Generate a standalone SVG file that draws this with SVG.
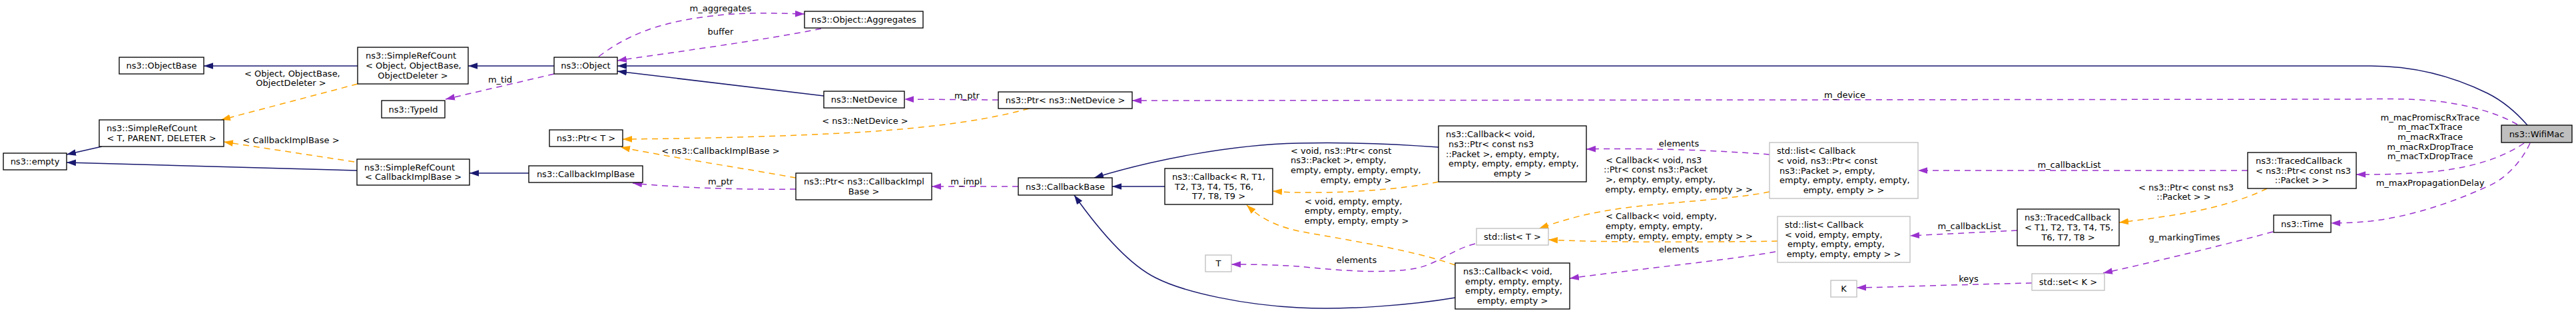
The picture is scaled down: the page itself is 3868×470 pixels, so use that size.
<svg xmlns="http://www.w3.org/2000/svg" width="3868" height="470" viewBox="0 0 3868 470">
<style>
.box{fill:#fff;stroke:#000;stroke-width:1.33}
.gbox{fill:#fff;stroke:#bfbfbf;stroke-width:1.33}
.cur{fill:#bfbfbf;stroke:#000;stroke-width:1.33}
text{font-family:"DejaVu Sans",sans-serif;font-size:13px;fill:#000}
.c{text-anchor:middle}
.navy{fill:none;stroke:#191970;stroke-width:1.5}
.org{fill:none;stroke:#ffa500;stroke-width:1.5;stroke-dasharray:9,7}
.pur{fill:none;stroke:#9a32cd;stroke-width:1.5;stroke-dasharray:9,7}
.navy{marker-end:url(#aN)}
.org{marker-end:url(#aO)}
.pur{marker-end:url(#aP)}
</style>
<defs>
<marker id="aN" markerUnits="userSpaceOnUse" markerWidth="14" markerHeight="10" viewBox="0 0 13 9" refX="13" refY="4.5" orient="auto"><path d="M0,0L13,4.5L0,9z" fill="#191970" stroke="none"/></marker>
<marker id="aO" markerUnits="userSpaceOnUse" markerWidth="14" markerHeight="10" viewBox="0 0 13 9" refX="13" refY="4.5" orient="auto"><path d="M0,0L13,4.5L0,9z" fill="#ffa500" stroke="none"/></marker>
<marker id="aP" markerUnits="userSpaceOnUse" markerWidth="14" markerHeight="10" viewBox="0 0 13 9" refX="13" refY="4.5" orient="auto"><path d="M0,0L13,4.5L0,9z" fill="#9a32cd" stroke="none"/></marker>
</defs>
<rect width="3868" height="470" fill="#fff"/>

<g id="connectors">
<path class="navy" d="M3795,188 C3775,165 3755,150 3735,140 C3680,113 3620,99 3560,99 L927,99"/>
<path class="navy" d="M537,99 L306,99"/>
<path class="navy" d="M832,99 L703,99"/>
<path class="navy" d="M1237,144 L927,107"/>
<path class="navy" d="M153,220 L100,232"/>
<path class="navy" d="M536,256 L100,244"/>
<path class="navy" d="M794,260 L705,260"/>
<path class="navy" d="M1749,280 L1670,280"/>
<path class="navy" d="M2160,221 C2120,218 2040,213 1950,215 C1850,217 1730,240 1643,267"/>
<path class="navy" d="M2185,447 C2120,458 2020,466 1950,462 C1870,458 1780,440 1735,417 C1695,397 1650,345 1613,293"/>

<path class="org" d="M537,126 L332,180"/>
<path class="org" d="M532,243 L336,213"/>
<path class="org" d="M1545,163 C1490,178 1420,190 1300,198 C1180,205 1050,208 935,209"/>
<path class="org" d="M1195,267 C1130,255 1000,235 932,221"/>
<path class="org" d="M2160,273 C2100,285 2020,290 1950,289 C1935,289 1925,288 1911,287"/>
<path class="org" d="M2185,398 C2120,375 2020,360 1950,347 C1910,338 1890,325 1872,308"/>
<path class="org" d="M2657,288 C2600,300 2480,305 2420,315 C2370,323 2340,333 2311,343"/>
<path class="org" d="M2669,362 C2550,364 2400,364 2325,360"/>
<path class="org" d="M3404,283 C3370,300 3320,315 3250,325 C3225,329 3200,332 3182,334"/>

<path class="pur" d="M832,111 L669,149"/>
<path class="pur" d="M899,85 C925,65 950,53 975,44 C1030,25 1100,18 1170,20 L1208,21"/>
<path class="pur" d="M1233,43 C1150,60 1000,80 927,91"/>
<path class="pur" d="M1499,150 L1358,149"/>
<path class="pur" d="M1195,284 C1110,285 1020,282 950,275"/>
<path class="pur" d="M1529,280 L1399,280"/>
<path class="pur" d="M3780,187 C3750,170 3710,158 3660,152 C3620,148 3580,148 3540,149 L1700,151"/>
<path class="pur" d="M3790,215 C3760,235 3720,250 3660,257 C3610,262 3570,262 3538,262"/>
<path class="pur" d="M3799,215 C3785,245 3760,270 3735,280 C3680,305 3620,325 3560,332 C3530,335 3510,335 3500,335"/>
<path class="pur" d="M3375,256 L2880,256"/>
<path class="pur" d="M2657,232 C2570,225 2460,222 2382,224"/>
<path class="pur" d="M2666,378 C2600,390 2450,405 2357,418"/>
<path class="pur" d="M2215,366 C2180,375 2160,395 2130,402 C2080,413 2000,405 1950,400 C1920,398 1890,397 1849,397"/>
<path class="pur" d="M3029,346 L2868,354"/>
<path class="pur" d="M3051,425 C2950,427 2850,431 2788,432"/>
<path class="pur" d="M3413,348 C3350,365 3250,390 3158,410"/>

<text x="367" y="114.5">&lt; Object, ObjectBase,</text>
<text class="c" x="437" y="129">ObjectDeleter &gt;</text>
<text class="c" x="437" y="214.5">&lt; CallbackImplBase &gt;</text>
<text class="c" x="1082" y="16.5">m_aggregates</text>
<text class="c" x="1082" y="51.5">buffer</text>
<text class="c" x="751" y="123.5">m_tid</text>
<text class="c" x="1299" y="185.5">&lt; ns3::NetDevice &gt;</text>
<text class="c" x="1082" y="230.5">&lt; ns3::CallbackImplBase &gt;</text>
<text class="c" x="1082" y="276.5">m_ptr</text>
<text class="c" x="1452" y="147.5">m_ptr</text>
<text class="c" x="1451" y="276.5">m_impl</text>
<text x="1938" y="230.5">&lt; void, ns3::Ptr&lt; const</text>
<text x="1938" y="245.2">ns3::Packet &gt;, empty,</text>
<text x="1938" y="260">empty, empty, empty, empty,</text>
<text class="c" x="2036" y="274.6">empty, empty &gt;</text>
<text class="c" x="2521" y="219.5">elements</text>
<text x="2411" y="244.5">&lt; Callback&lt; void, ns3</text>
<text x="2408" y="259.2">::Ptr&lt; const ns3::Packet</text>
<text x="2411" y="274">&gt;, empty, empty, empty,</text>
<text class="c" x="2521" y="288.7">empty, empty, empty, empty &gt; &gt;</text>
<text x="1959" y="306.5">&lt; void, empty, empty,</text>
<text x="1959" y="321.2">empty, empty, empty,</text>
<text class="c" x="2037" y="336">empty, empty, empty &gt;</text>
<text x="2411" y="328.5">&lt; Callback&lt; void, empty,</text>
<text x="2411" y="343.5">empty, empty, empty,</text>
<text class="c" x="2521" y="358.5">empty, empty, empty, empty &gt; &gt;</text>
<text class="c" x="2521" y="378.5">elements</text>
<text class="c" x="2037" y="394.5">elements</text>
<text class="c" x="2770" y="146.5">m_device</text>
<text class="c" x="3107" y="251.5">m_callbackList</text>
<text class="c" x="2957" y="343.5">m_callbackList</text>
<text class="c" x="2956" y="422.5">keys</text>
<text x="3211" y="285.5">&lt; ns3::Ptr&lt; const ns3</text>
<text class="c" x="3279" y="300">::Packet &gt; &gt;</text>
<text class="c" x="3280" y="360.5">g_markingTimes</text>
<text class="c" x="3649" y="180.5">m_macPromiscRxTrace</text>
<text class="c" x="3649" y="195.2">m_macTxTrace</text>
<text class="c" x="3649" y="209.9">m_macRxTrace</text>
<text class="c" x="3649" y="224.6">m_macRxDropTrace</text>
<text class="c" x="3649" y="239.3">m_macTxDropTrace</text>
<text class="c" x="3649" y="278.5">m_maxPropagationDelay</text>
</g>

<g id="node_wifimac"><rect class="cur" x="3756" y="188" width="106" height="26"/><text class="c" x="3809" y="205.5">ns3::WifiMac</text></g>
<g id="node_object"><rect class="box" x="832" y="86" width="95" height="25"/><text class="c" x="879.5" y="103">ns3::Object</text></g>
<g id="node_srco"><rect class="box" x="537" y="71" width="166" height="55"/><text x="549" y="88.3">ns3::SimpleRefCount</text><text x="549" y="103">&lt; Object, ObjectBase,</text><text class="c" x="620" y="117.7">ObjectDeleter &gt;</text></g>
<g id="node_objectbase"><rect class="box" x="179" y="86" width="127" height="25"/><text class="c" x="242.5" y="103">ns3::ObjectBase</text></g>
<g id="node_srct"><rect class="box" x="149" y="180" width="187" height="40"/><text x="160" y="197.1">ns3::SimpleRefCount</text><text class="c" x="242.5" y="211.8">&lt; T, PARENT, DELETER &gt;</text></g>
<g id="node_empty"><rect class="box" x="5" y="230" width="95" height="25"/><text class="c" x="52.5" y="247">ns3::empty</text></g>
<g id="node_typeid"><rect class="box" x="573" y="151" width="95" height="26"/><text class="c" x="620.5" y="168.5">ns3::TypeId</text></g>
<g id="node_aggregates"><rect class="box" x="1208" y="17" width="178" height="25"/><text class="c" x="1297" y="34">ns3::Object::Aggregates</text></g>
<g id="node_netdevice"><rect class="box" x="1237" y="137" width="121" height="25"/><text class="c" x="1297.5" y="154">ns3::NetDevice</text></g>
<g id="node_ptrnetdevice"><rect class="box" x="1499" y="138" width="201" height="25"/><text class="c" x="1599.5" y="155">ns3::Ptr&lt; ns3::NetDevice &gt;</text></g>
<g id="node_ptrt"><rect class="box" x="825" y="195" width="110" height="25"/><text class="c" x="880" y="212">ns3::Ptr&lt; T &gt;</text></g>
<g id="node_srccib"><rect class="box" x="536" y="239" width="169" height="39"/><text x="547" y="255.6">ns3::SimpleRefCount</text><text class="c" x="620.5" y="270.3">&lt; CallbackImplBase &gt;</text></g>
<g id="node_callbackimplbase"><rect class="box" x="794" y="249" width="171" height="25"/><text class="c" x="879.5" y="266">ns3::CallbackImplBase</text></g>
<g id="node_ptrcib"><rect class="box" x="1195" y="260" width="204" height="40"/><text x="1207" y="277.1">ns3::Ptr&lt; ns3::CallbackImpl</text><text class="c" x="1297" y="291.8">Base &gt;</text></g>
<g id="node_callbackbase"><rect class="box" x="1529" y="267" width="141" height="26"/><text class="c" x="1599.5" y="284.5">ns3::CallbackBase</text></g>
<g id="node_callbackr"><rect class="box" x="1749" y="253" width="162" height="54"/><text x="1760" y="269.8">ns3::Callback&lt; R, T1,</text><text x="1764" y="284.5">T2, T3, T4, T5, T6,</text><text class="c" x="1830" y="299.2">T7, T8, T9 &gt;</text></g>
<g id="node_t"><rect class="gbox" x="1810" y="383" width="39" height="25"/><text class="c" x="1829.5" y="400">T</text></g>
<g id="node_callbackvp"><rect class="box" x="2160" y="189" width="222" height="84"/><text x="2171" y="206.1">ns3::Callback&lt; void,</text><text x="2175" y="220.8">ns3::Ptr&lt; const ns3</text><text x="2171" y="235.5">::Packet &gt;, empty, empty,</text><text x="2175" y="250.2">empty, empty, empty, empty,</text><text class="c" x="2271" y="264.9">empty &gt;</text></g>
<g id="node_listt"><rect class="gbox" x="2217" y="343" width="108" height="25"/><text class="c" x="2271" y="360">std::list&lt; T &gt;</text></g>
<g id="node_callbackve"><rect class="box" x="2185" y="395" width="172" height="69"/><text x="2197" y="412">ns3::Callback&lt; void,</text><text x="2200" y="426.7">empty, empty, empty,</text><text x="2200" y="441.4">empty, empty, empty,</text><text class="c" x="2271" y="456">empty, empty &gt;</text></g>
<g id="node_listcbvp"><rect class="gbox" x="2657" y="214" width="223" height="84"/><text x="2668" y="231.1">std::list&lt; Callback</text><text x="2668" y="245.8">&lt; void, ns3::Ptr&lt; const</text><text x="2672" y="260.5">ns3::Packet &gt;, empty,</text><text x="2672" y="275.2">empty, empty, empty, empty,</text><text class="c" x="2768.5" y="289.9">empty, empty &gt; &gt;</text></g>
<g id="node_listcbve"><rect class="gbox" x="2669" y="325" width="199" height="69"/><text x="2680" y="342">std::list&lt; Callback</text><text x="2680" y="356.7">&lt; void, empty, empty,</text><text x="2684" y="371.4">empty, empty, empty,</text><text class="c" x="2768.5" y="386">empty, empty, empty &gt; &gt;</text></g>
<g id="node_tracedcbt"><rect class="box" x="3029" y="314" width="153" height="55"/><text x="3040" y="331.3">ns3::TracedCallback</text><text x="3040" y="346">&lt; T1, T2, T3, T4, T5,</text><text class="c" x="3105.5" y="360.7">T6, T7, T8 &gt;</text></g>
<g id="node_k"><rect class="gbox" x="2749" y="421" width="39" height="25"/><text class="c" x="2768.5" y="438">K</text></g>
<g id="node_setk"><rect class="gbox" x="3051" y="411" width="109" height="25"/><text class="c" x="3105.5" y="428">std::set&lt; K &gt;</text></g>
<g id="node_tracedcbp"><rect class="box" x="3375" y="229" width="163" height="54"/><text x="3387" y="245.8">ns3::TracedCallback</text><text x="3387" y="260.5">&lt; ns3::Ptr&lt; const ns3</text><text class="c" x="3456.5" y="275.2">::Packet &gt; &gt;</text></g>
<g id="node_time"><rect class="box" x="3414" y="323" width="86" height="26"/><text class="c" x="3457" y="340.5">ns3::Time</text></g>
</svg>
